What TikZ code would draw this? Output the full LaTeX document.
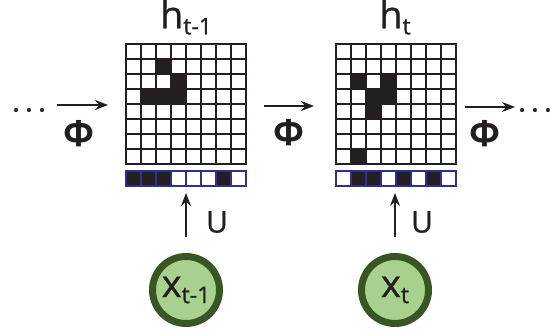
\documentclass[tikz,border=0pt]{standalone}
\usepackage{fontspec}
\setmainfont{Open Sans}
\usetikzlibrary{arrows.meta}
\definecolor{ink}{HTML}{231F20}
\definecolor{navy}{HTML}{2E3192}
\definecolor{leaf}{HTML}{A9D18E}
\definecolor{moss}{HTML}{375623}
\newcommand{\lowtext}[1]{\raisebox{-6pt}{\fontsize{23}{23}\selectfont #1}}

\begin{document}
\begin{tikzpicture}[x=1pt,y=-1pt,
  arr/.style={-{Stealth[length=13pt,width=10pt]},line width=1.4pt,draw=ink},
  state/.style={draw=moss,fill=leaf,circle,line width=7pt,minimum size=67pt,inner sep=0pt,text=ink,font=\fontsize{38}{38}\selectfont\addfontfeatures{FakeBold=0.8}},
  board/.style={draw=ink,line width=2.5pt,minimum size=120pt,inner sep=0pt},
  strip/.style={draw=navy,line width=2pt,minimum width=120pt,minimum height=15pt,inner sep=0pt},
  phi/.style={text=ink,font=\fontsize{36}{36}\selectfont\bfseries},
  lbl/.style={text=ink,font=\fontsize{38}{38}\selectfont\addfontfeatures{FakeBold=0.8}},
  wgt/.style={text=ink,font=\fontsize{30}{30}\selectfont\addfontfeatures{FakeBold=0.8}}]
\useasboundingbox (0,0) rectangle (556,332);

\foreach \c/\r in {2/1,3/2,1/3,2/3,3/3} \fill[ink] (126+15*\c,44+15*\r) rectangle ++(15,15);
\foreach \c/\r in {1/2,3/2,2/3,3/3,2/4,1/7} \fill[ink] (336+15*\c,44+15*\r) rectangle ++(15,15);
\foreach \i in {1,...,7} {
  \draw[ink,line width=2.5pt] (126+15*\i,44) -- (126+15*\i,164);
  \draw[ink,line width=2.5pt] (126,44+15*\i) -- (246,44+15*\i);
  \draw[ink,line width=2.5pt] (336+15*\i,44) -- (336+15*\i,164);
  \draw[ink,line width=2.5pt] (336,44+15*\i) -- (456,44+15*\i);
}
\node[board] (h1) at (186,104) {};
\node[board] (h2) at (396,104) {};

\foreach \i/\f in {0/ink,1/ink,2/ink,3/white,4/white,5/white,6/ink,7/white}
  \filldraw[fill=\f,draw=navy,line width=2pt] (126+15*\i,171) rectangle ++(15,15);
\foreach \i/\f in {0/white,1/ink,2/ink,3/white,4/ink,5/white,6/ink,7/white}
  \filldraw[fill=\f,draw=navy,line width=2pt] (336+15*\i,171) rectangle ++(15,15);
\node[strip] (u1) at (186,178.5) {};
\node[strip] (u2) at (396,178.5) {};

\node[lbl] (l1) at (186,17) {h\lowtext{t-1}};
\node[lbl] (l2) at (395,17) {h\lowtext{t}};

\node[state] (x1) at (186,290) {x\lowtext{t-1}};
\node[state] (x2) at (395,290) {x\lowtext{t}};

\draw[arr,shorten <=16pt,shorten >=6pt] (x1.north) -- (x1.north |- u1.south);
\draw[arr,shorten <=16pt,shorten >=6pt] (x2.north) -- (x2.north |- u2.south);
\node[wgt] (w1) at (217,222) {U};
\node[wgt] (w2) at (422,222) {U};

\node[wgt,inner sep=0pt] (d0) at (29,110) {.\hspace{5pt}.\hspace{5pt}.};
\node[wgt,inner sep=0pt] (d3) at (535,110) {.\hspace{5pt}.\hspace{5pt}.};
\coordinate (a0) at (57,105);
\coordinate (b0) at (108,105);
\coordinate (a1) at (264,106);
\coordinate (b1) at (314,106);
\coordinate (a2) at (465,107);
\coordinate (b2) at (515,107);
\draw[arr] (a0) -- (b0);
\draw[arr] (a1) -- (b1);
\draw[arr] (a2) -- (b2);
\node[phi] (p0) at (79,134) {Φ};
\node[phi] (p1) at (289,133) {Φ};
\node[phi] (p2) at (485,134) {Φ};
\end{tikzpicture}
\end{document}
